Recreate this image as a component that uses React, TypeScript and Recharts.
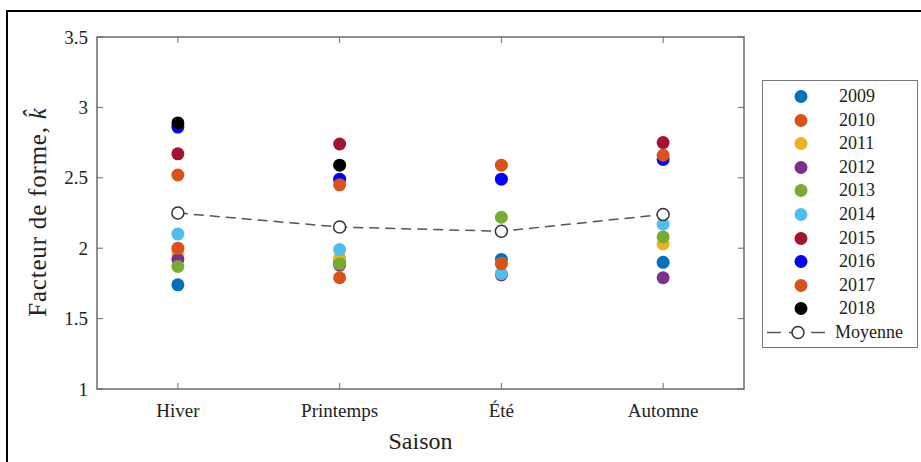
import { ScatterChart, Scatter, XAxis, YAxis, ReferenceArea } from 'recharts';

// seasons on the x axis
const seasons = ['Hiver', 'Printemps', 'Été', 'Automne'];
const seasonPos = [1, 2, 3, 4];
const yTicks = [1, 1.5, 2, 2.5, 3, 3.5];

const years = ['2009', '2010', '2011', '2012', '2013', '2014', '2015', '2016', '2017', '2018'];
const yearColors = ['#0072BD', '#D95319', '#EDB120', '#7E2F8E', '#77AC30', '#4DBEEE', '#A2142F', '#0000FF', '#D95319', '#000000'];

// shape factor k per season (Hiver, Printemps, Été, Automne); null = no data
const k2009 = [1.74, 1.9, 1.92, 1.9];
const k2010 = [2.52, 1.79, 2.59, null];
const k2011 = [1.96, 1.93, 1.89, 2.03];
const k2012 = [1.92, 1.88, 1.81, 1.79];
const k2013 = [1.87, 1.89, 2.22, 2.08];
const k2014 = [2.1, 1.99, 1.82, 2.17];
const k2015 = [2.67, 2.74, null, 2.75];
const k2016 = [2.86, 2.49, 2.49, 2.63];
const k2017 = [2.0, 2.45, 1.89, 2.66];
const k2018 = [2.89, 2.59, null, null];
const kMean = [2.25, 2.15, 2.12, 2.24];

const kByYear = [k2009, k2010, k2011, k2012, k2013, k2014, k2015, k2016, k2017, k2018];

const PLOT_LEFT = 97;
const PLOT_RIGHT = 744;
const PLOT_TOP = 37;
const PLOT_BOTTOM = 389;
const FONT = '"Liberation Serif", "DejaVu Serif", serif';
const AXIS_COLOR = '#6b6b6b';
const TEXT_COLOR = '#222';

const toPoints = (vals: (number | null)[]) =>
  vals
    .map((v, i) => ({ x: seasonPos[i], k: v }))
    .filter((p) => p.k !== null);

const YTick = (props: any) => {
  const { y, payload } = props;
  return (
    <g>
      <text x={PLOT_LEFT - 9} y={y} textAnchor="end" dominantBaseline="central" fontFamily={FONT} fontSize={19} fill={TEXT_COLOR}>
        {payload.value}
      </text>
      <line x1={PLOT_LEFT} x2={PLOT_LEFT + 6} y1={y} y2={y} stroke={AXIS_COLOR} strokeWidth={1} />
      <line x1={PLOT_RIGHT - 6} x2={PLOT_RIGHT} y1={y} y2={y} stroke={AXIS_COLOR} strokeWidth={1} />
    </g>
  );
};

const XTick = (props: any) => {
  const { x, payload } = props;
  return (
    <g>
      <text x={x} y={PLOT_BOTTOM + 21} textAnchor="middle" dominantBaseline="central" fontFamily={FONT} fontSize={19} fill={TEXT_COLOR}>
        {seasons[payload.value - 1]}
      </text>
      <line x1={x} x2={x} y1={PLOT_BOTTOM} y2={PLOT_BOTTOM - 6} stroke={AXIS_COLOR} strokeWidth={1} />
      <line x1={x} x2={x} y1={PLOT_TOP} y2={PLOT_TOP + 6} stroke={AXIS_COLOR} strokeWidth={1} />
    </g>
  );
};

const Dot = (color: string) => (p: any) => <circle cx={p.cx} cy={p.cy} r={6.5} fill={color} />;

const MeanDot = (p: any) => <circle cx={p.cx} cy={p.cy} r={6} fill="#fff" stroke="#333" strokeWidth={1.5} />;

function LegendBox() {
  return (
    <div
      style={{
        position: 'absolute',
        left: 762,
        top: 80,
        width: 154,
        height: 266,
        border: '1.5px solid #777',
        background: '#fff',
        fontFamily: FONT,
        fontSize: 18,
        color: TEXT_COLOR,
      }}
    >
      {years.map((yr, i) => (
        <div key={yr} style={{ position: 'absolute', top: 4 + i * 23.6, left: 0, height: 23, width: 154, display: 'flex', alignItems: 'center' }}>
          <svg width={76} height={23}>
            <circle cx={38} cy={11.5} r={6.5} fill={yearColors[i]} />
          </svg>
          <span>{yr}</span>
        </div>
      ))}
      <div style={{ position: 'absolute', top: 4 + 10 * 23.6, left: 0, height: 23, width: 154, display: 'flex', alignItems: 'center' }}>
        <svg width={72} height={23}>
          <line x1={4} x2={66} y1={11.5} y2={11.5} stroke="#555" strokeWidth={1.5} strokeDasharray="14 8" />
          <circle cx={35} cy={11.5} r={6} fill="#fff" stroke="#333" strokeWidth={1.5} />
        </svg>
        <span>Moyenne</span>
      </div>
    </div>
  );
}

export default function App() {
  return (
    <div style={{ position: 'fixed', left: 0, top: 0, width: 921, height: 462, background: '#fff', overflow: 'hidden' }}>
      <div
        style={{
          position: 'absolute',
          left: 6,
          top: 10,
          width: 930,
          height: 470,
          borderTop: '2px solid #000',
          borderLeft: '2px solid #000',
        }}
      />
      <div style={{ position: 'absolute', left: 0, top: 0 }}>
        <ScatterChart
          width={921}
          height={462}
          margin={{ top: PLOT_TOP, right: 921 - PLOT_RIGHT, bottom: 462 - PLOT_BOTTOM - 30, left: 0 }}
        >
          <XAxis
            type="number"
            dataKey="x"
            domain={[0.5, 4.5]}
            ticks={seasonPos}
            allowDataOverflow
            axisLine={false}
            tickLine={false}
            tickSize={0}
            height={30}
            tick={<XTick />}
          />
          <YAxis
            type="number"
            dataKey="k"
            domain={[1, 3.5]}
            ticks={yTicks}
            allowDataOverflow
            axisLine={false}
            tickLine={false}
            tickSize={0}
            width={PLOT_LEFT}
            tick={<YTick />}
          />
          <ReferenceArea x1={0.5} x2={4.5} y1={1} y2={3.5} fill="none" stroke={AXIS_COLOR} strokeWidth={1.5} ifOverflow="visible" />
          {kByYear.map((vals, i) => (
            <Scatter
              key={years[i]}
              name={years[i]}
              data={toPoints(vals)}
              shape={Dot(yearColors[i])}
              isAnimationActive={false}
            />
          ))}
          <Scatter
            name="Moyenne"
            data={toPoints(kMean)}
            line={{ stroke: '#555', strokeWidth: 1.5, strokeDasharray: '10 6' }}
            shape={MeanDot}
            isAnimationActive={false}
          />
        </ScatterChart>
      </div>
      {/* axis titles */}
      <svg width={921} height={462} style={{ position: 'absolute', left: 0, top: 0, pointerEvents: 'none' }}>
        <text x={(PLOT_LEFT + PLOT_RIGHT) / 2} y={441} textAnchor="middle" dominantBaseline="central" fontFamily={FONT} fontSize={24} fill={TEXT_COLOR}>
          Saison
        </text>
        <text
          x={37}
          y={212}
          transform="rotate(-90 37 212)"
          textAnchor="middle"
          dominantBaseline="central"
          fontFamily={FONT}
          fontSize={25}
          letterSpacing={0.8}
          fill={TEXT_COLOR}
        >
          Facteur de forme, <tspan fontStyle="italic">k̂</tspan>
        </text>
      </svg>
      <LegendBox />
    </div>
  );
}
